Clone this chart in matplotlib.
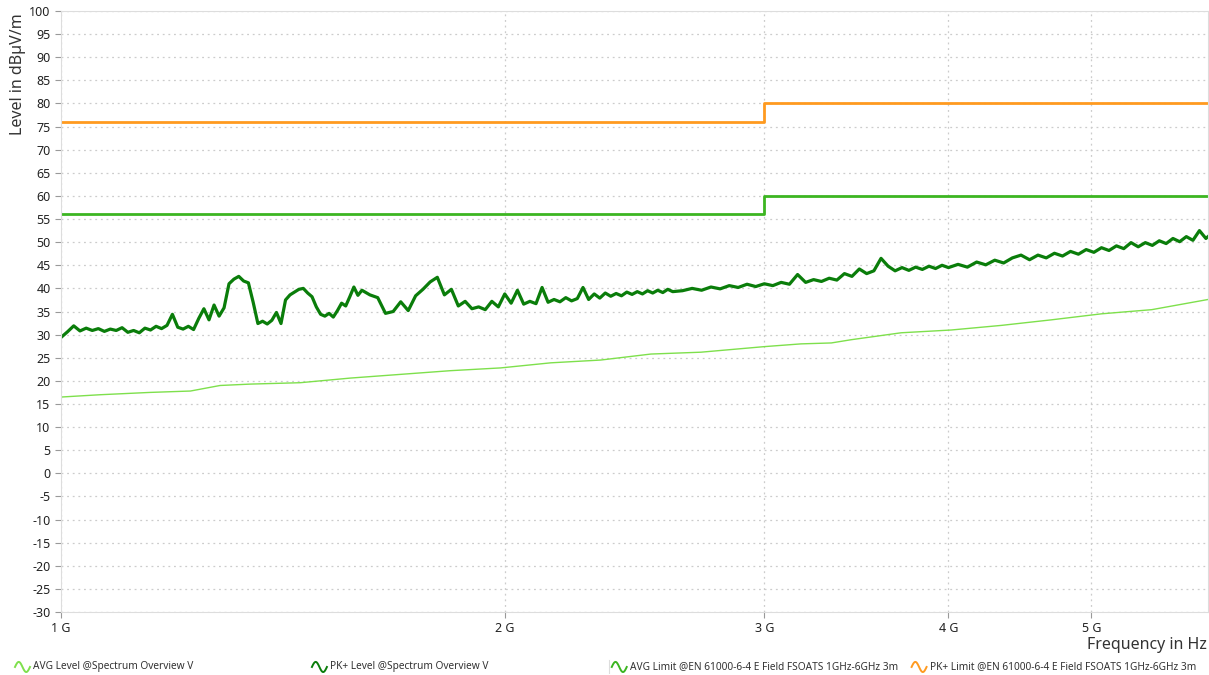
import numpy as np
import matplotlib
matplotlib.use("Agg")
import matplotlib.pyplot as plt
from matplotlib.lines import Line2D

plt.rcParams['font.family'] = ['Noto Sans', 'DejaVu Sans']

# PK+ level trace (GHz, dBuV/m)
pk_freq = [1.00, 1.01, 1.02, 1.03, 1.04, 1.05, 1.06, 1.07, 1.08, 1.09,
           1.10, 1.11, 1.12, 1.13, 1.14, 1.15, 1.16, 1.17, 1.18, 1.19,
           1.20, 1.21, 1.22, 1.23, 1.24, 1.25, 1.26, 1.27, 1.28, 1.29,
           1.30, 1.31, 1.32, 1.33, 1.34, 1.35, 1.36, 1.37, 1.38, 1.39,
           1.40, 1.41, 1.42, 1.43, 1.44, 1.45, 1.46, 1.47, 1.48, 1.49,
           1.50, 1.51, 1.52, 1.53, 1.54, 1.55, 1.56, 1.57, 1.58, 1.59,
           1.60, 1.62, 1.64, 1.66, 1.68, 1.70, 1.72, 1.74, 1.76, 1.78,
           1.80, 1.82, 1.84, 1.86, 1.88, 1.90, 1.92, 1.94, 1.96, 1.98,
           2.00, 2.02, 2.04, 2.06, 2.08, 2.10, 2.12, 2.14, 2.16, 2.18,
           2.20, 2.22, 2.24, 2.26, 2.28, 2.30, 2.32, 2.34, 2.36, 2.38,
           2.40, 2.42, 2.44, 2.46, 2.48, 2.50, 2.52, 2.54, 2.56, 2.58,
           2.60, 2.64, 2.68, 2.72, 2.76, 2.80, 2.84, 2.88, 2.92, 2.96,
           3.00, 3.04, 3.08, 3.12, 3.16, 3.20, 3.24, 3.28, 3.32, 3.36,
           3.40, 3.44, 3.48, 3.52, 3.56, 3.60, 3.64, 3.68, 3.72, 3.76,
           3.80, 3.84, 3.88, 3.92, 3.96, 4.00, 4.06, 4.12, 4.18, 4.24,
           4.30, 4.36, 4.42, 4.48, 4.54, 4.60, 4.66, 4.72, 4.78, 4.84,
           4.90, 4.96, 5.02, 5.08, 5.14, 5.20, 5.26, 5.32, 5.38, 5.44,
           5.50, 5.56, 5.62, 5.68, 5.74, 5.80, 5.86, 5.92, 5.98, 6.00]
pk_level = [29.4, 30.6, 31.9, 30.8, 31.4, 30.9, 31.3, 30.7, 31.2, 30.9,
            31.5, 30.5, 30.9, 30.4, 31.4, 31.0, 31.8, 31.3, 32.0, 34.4,
            31.6, 31.2, 31.8, 31.1, 33.5, 35.6, 33.2, 36.4, 34.0, 35.8,
            41.0, 42.0, 42.6, 41.6, 41.2, 37.0, 32.4, 32.9, 32.3, 33.1,
            34.8, 32.4, 37.5, 38.6, 39.2, 39.8, 40.0, 39.0, 38.2, 36.0,
            34.4, 34.0, 34.6, 33.8, 35.2, 36.8, 36.2, 38.2, 40.3, 38.5,
            39.6, 38.6, 38.0, 34.6, 35.0, 37.1, 35.2, 38.4, 39.8, 41.4,
            42.4, 38.6, 39.8, 36.2, 37.2, 35.6, 36.0, 35.4, 37.2, 36.0,
            38.8, 36.8, 39.6, 36.6, 37.2, 36.7, 40.2, 37.0, 37.6, 37.1,
            38.0, 37.3, 37.8, 40.2, 37.6, 38.8, 37.9, 39.0, 38.3, 38.9,
            38.4, 39.2, 38.7, 39.3, 38.8, 39.5, 39.0, 39.6, 39.1, 39.8,
            39.3, 39.5, 40.0, 39.6, 40.3, 39.9, 40.6, 40.2, 40.9, 40.4,
            41.0, 40.6, 41.3, 40.9, 43.0, 41.3, 41.9, 41.5, 42.2, 41.8,
            43.2, 42.6, 44.2, 43.2, 43.8, 46.5, 44.8, 43.8, 44.5, 43.9,
            44.6, 44.1, 44.8, 44.3, 45.0, 44.5, 45.2, 44.6, 45.7, 45.1,
            46.1, 45.5, 46.6, 47.2, 46.2, 47.2, 46.6, 47.6, 47.0, 48.0,
            47.4, 48.4, 47.8, 48.8, 48.2, 49.2, 48.6, 49.9, 49.0, 49.9,
            49.3, 50.3, 49.7, 50.8, 50.1, 51.2, 50.4, 52.5, 50.8, 51.2]

# AVG level trace
avg_freq = [1.000, 1.063, 1.149, 1.224, 1.282, 1.344, 1.453, 1.571, 1.699, 1.837,
            1.987, 2.149, 2.323, 2.513, 2.717, 2.999, 3.177, 3.331, 3.436, 3.715,
            4.017, 4.345, 4.698, 5.080, 5.495, 6.000]
avg_level = [16.5, 17.0, 17.5, 17.8, 19.0, 19.3, 19.6, 20.6, 21.4, 22.2,
             22.8, 23.9, 24.5, 25.8, 26.2, 27.4, 28.0, 28.2, 28.9, 30.4,
             31.0, 32.0, 33.2, 34.5, 35.4, 37.6]

# limit lines (EN 61000-6-4, 3 m)
lim_freq = [1.0, 3.0, 3.0, 6.0]
avg_limit = [56, 56, 60, 60]
pk_limit = [76, 76, 80, 80]

y_ticks = list(range(-30, 101, 5))
x_ticks = [1, 2, 3, 4, 5]
x_tick_labels = ["1 G", "2 G", "3 G", "4 G", "5 G"]

legend_labels = ["AVG Level @Spectrum Overview V",
                 "PK+ Level @Spectrum Overview V",
                 "AVG Limit @EN 61000-6-4 E Field FSOATS 1GHz-6GHz 3m",
                 "PK+ Limit @EN 61000-6-4 E Field FSOATS 1GHz-6GHz 3m"]
colors = ["#7ee04c", "#0a7d0a", "#3cb521", "#ff9a1f"]

fig = plt.figure(figsize=(12.09, 6.75), dpi=100)
ax = fig.add_axes([0.0505, 0.0933, 0.9487, 0.8904])

ax.plot(np.array(avg_freq) * 1e9, avg_level, color=colors[0], lw=1.0)
ax.plot(np.array(pk_freq) * 1e9, pk_level, color=colors[1], lw=2.3)
ax.plot(np.array(lim_freq) * 1e9, avg_limit, color=colors[2], lw=2.0)
ax.plot(np.array(lim_freq) * 1e9, pk_limit, color=colors[3], lw=2.0)

ax.set_xscale("log")
ax.set_xlim(1e9, 6e9)
ax.set_ylim(-30, 100)
ax.set_yticks(y_ticks)
ax.set_yticklabels([str(v) for v in y_ticks])
ax.set_xticks([v * 1e9 for v in x_ticks])
ax.set_xticklabels(x_tick_labels)
ax.xaxis.set_minor_locator(matplotlib.ticker.NullLocator())
ax.tick_params(axis="both", labelsize=9, color="#999999", length=4, width=0.8,
               labelcolor="#222222")
ax.grid(True, color="#cccccc", linestyle=(0, (1.5, 3)), lw=0.9)
for s in ax.spines.values():
    s.set_color("#dddddd")

fig.text(0.0149, 0.981, "Level in dBµV/m", rotation=90, ha="center", va="top",
         fontsize=11.5, color="#333333")
fig.text(0.998, 0.044, "Frequency in Hz", ha="right", va="center",
         fontsize=11.5, color="#333333")

# legend row with sine-wave glyphs
leg_x = [0.0124, 0.258, 0.506, 0.754]
t = np.linspace(0, 2 * np.pi, 40)
for lx, lab, c in zip(leg_x, legend_labels, colors):
    gx = lx + t / (2 * np.pi) * 0.0124
    gy = 0.0119 + 0.0075 * np.sin(t)
    fig.add_artist(Line2D(gx, gy, color=c, lw=1.4, transform=fig.transFigure))
    fig.text(lx + 0.0149, 0.0119, lab, fontsize=7.3, color="#333333",
             va="center", ha="left")
fig.add_artist(Line2D([0.5035, 0.5035], [0.003, 0.022], color="#dddddd", lw=0.8,
                      transform=fig.transFigure))

fig.savefig("out.png", dpi=100)
